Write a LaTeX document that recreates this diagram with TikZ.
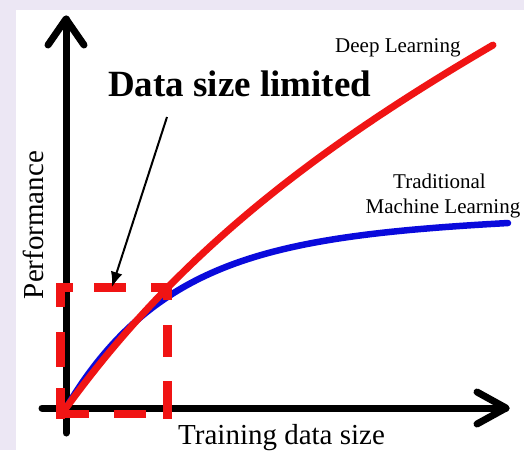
\documentclass[tikz,border=0pt]{standalone}
\usepackage{fontspec}
\setmainfont{Liberation Serif}
\usetikzlibrary{arrows.meta}
\definecolor{bgl}{RGB}{236,231,244}
\definecolor{cred}{RGB}{240,20,20}
\definecolor{cblue}{RGB}{10,10,220}
\begin{document}
\begin{tikzpicture}[x=1pt,y=-1pt,
  axis/.style={line width=7pt,line cap=round,line join=round,black},
  redc/.style={line width=7pt,cred,line cap=round},
  bluec/.style={line width=6.5pt,cblue,line cap=round},
  boxdash/.style={line width=8.5pt,cred},
  lbl/.style={inner sep=0pt,font=\fontsize{21}{25}\selectfont},
  big/.style={inner sep=0pt,font=\fontsize{29}{32}\selectfont},
  ]
\useasboundingbox (0,0) rectangle (524,450);
\fill[bgl] (0,0) rectangle (524,450);
\fill[white] (16,10) rectangle (524,450);
% axes
\coordinate (O) at (66,408);
\coordinate (ybot) at (66,433);
\coordinate (ytip) at (66,19);
\coordinate (xleft) at (42,408);
\coordinate (xtip) at (506,408);
\draw[axis] (ybot) -- (ytip);
\draw[axis] ([shift={(-18,26)}]ytip) -- (ytip) -- ([shift={(18,26)}]ytip);
\draw[axis] (xleft) -- (xtip);
\draw[axis] ([shift={(-29,-16)}]xtip) -- (xtip) -- ([shift={(-29,16)}]xtip);
% curves
\draw[bluec] plot[domain=0:442,samples=80,smooth] ({66+\x},{408-(0.03*\x+174.3*(1-exp(-\x/105)))});
\draw[redc] plot[domain=0:427,samples=80,smooth] ({66+\x},{408-(0.477*\x+180.6*(1-exp(-\x/200)))});
% dashed box
\draw[boxdash,dash pattern=on 17pt off 21pt on 32pt off 25pt on 30pt] (56,287.5) -- (172,287.5);
\draw[boxdash,dash pattern=on 17pt off 25pt on 32pt off 24pt on 40pt] (167.5,283) -- (167.5,418.5);
\draw[boxdash,dash pattern=on 33pt off 25pt on 32pt off 18pt on 20pt] (56,414) -- (172,414);
\draw[boxdash,dash pattern=on 24pt off 25pt on 35pt off 21pt on 40pt] (60.5,283) -- (60.5,418.5);
% callout
\node[inner sep=0pt,font=\bfseries\fontsize{37}{40}\selectfont,anchor=base west] (dsl) at (108,96) {Data size limited};
\coordinate (arrS) at (167,117);
\coordinate (arrE) at (112,287);
\draw[line width=2pt,-{Latex[length=15pt,width=12pt]}] (arrS) -- (arrE);
% labels
\node[lbl,anchor=base west] (dl) at (335,52) {Deep Learning};
\node[lbl,anchor=base] (tml1) at (439.5,188) {Traditional};
\node[lbl,anchor=base] (tml2) at (443,213) {Machine Learning};
\node[big,anchor=base west] (xl) at (178,444) {Training data size};
\node[big,rotate=90,anchor=base] (yl) at (43,225) {Performance};
\end{tikzpicture}
\end{document}
